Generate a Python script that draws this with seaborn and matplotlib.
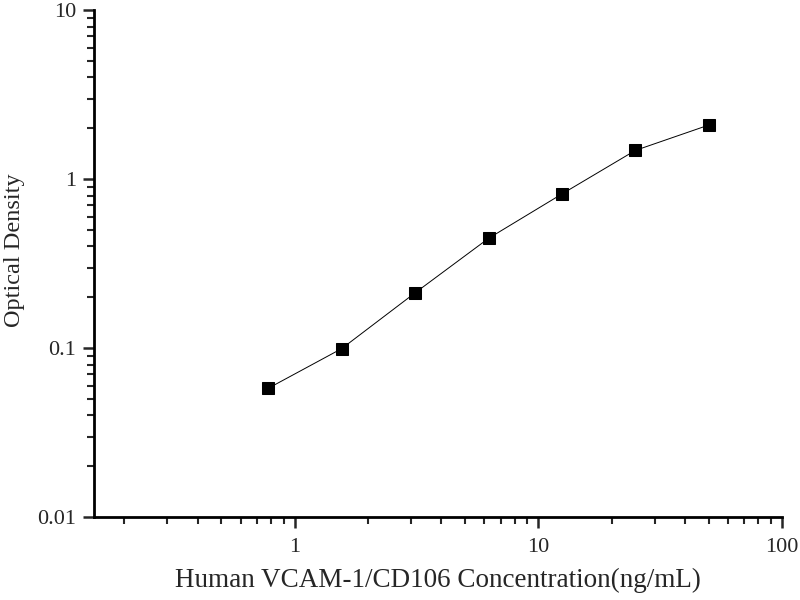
import numpy as np
import pandas as pd
import seaborn as sns
from matplotlib import pyplot as plt
import matplotlib.ticker as mticker

sns.set_style('ticks')
plt.rcParams['font.family'] = ['Liberation Serif', 'DejaVu Serif']

# standard curve data
concentration = [0.78, 1.56, 3.125, 6.25, 12.5, 25, 50]
optical_density = [0.058, 0.0995, 0.213, 0.447, 0.818, 1.48, 2.09]

x_ticks = [1, 10, 100]
x_tick_labels = ['1', '10', '100']
y_ticks = [0.01, 0.1, 1, 10]
y_tick_labels = ['0.01', '0.1', '1', '10']

df = pd.DataFrame({'conc': concentration, 'od': optical_density})

fig = plt.figure(figsize=(8, 6), dpi=100)
ax = fig.add_axes([0.1175, 0.138, 0.86, 0.845])

sns.lineplot(data=df, x='conc', y='od', ax=ax, color='black', linewidth=0.7,
             marker='s', markersize=8, markeredgecolor='black')

ax.set(xscale='log', yscale='log')
ax.set_xlim(0.15, 100)
ax.set_ylim(0.01, 10)

ax.set_xticks(x_ticks)
ax.set_xticklabels(x_tick_labels)
ax.set_yticks(y_ticks)
ax.set_yticklabels(y_tick_labels)
ax.xaxis.set_minor_locator(mticker.LogLocator(base=10, subs=np.arange(2, 10)))
ax.yaxis.set_minor_locator(mticker.LogLocator(base=10, subs=np.arange(2, 10)))
ax.xaxis.set_minor_formatter(mticker.NullFormatter())
ax.yaxis.set_minor_formatter(mticker.NullFormatter())

ax.tick_params(which='major', length=8, width=1.8, labelsize=16)
ax.tick_params(axis='x', which='major', pad=7)
ax.tick_params(axis='y', which='major', pad=5)
ax.tick_params(which='minor', length=5, width=1.5)

sns.despine(ax=ax)
for side in ['left', 'bottom']:
    ax.spines[side].set_linewidth(2)
    ax.spines[side].set_color('black')

ax.set_xlabel('Human VCAM-1/CD106 Concentration(ng/mL)', fontsize=19.5, labelpad=8)
ax.set_ylabel('Optical Density', fontsize=17.5, labelpad=5)
ax.yaxis.set_label_coords(-0.1, 0.527)

plt.savefig('out.png', dpi=100)
plt.close()
